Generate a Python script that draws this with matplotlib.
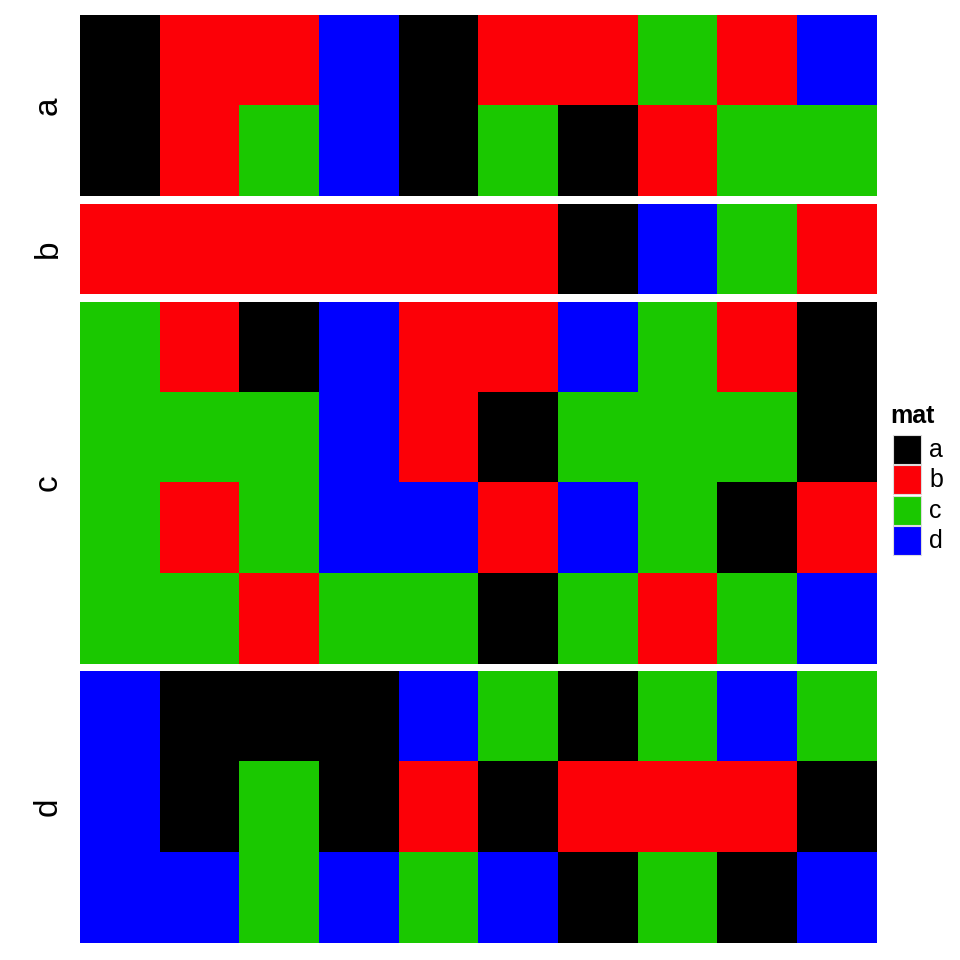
import matplotlib
matplotlib.use("Agg")
import matplotlib.pyplot as plt
from matplotlib.colors import ListedColormap
from matplotlib.patches import Rectangle
import numpy as np

plt.rcParams['font.family'] = ['Liberation Sans', 'DejaVu Sans']

levels = ['a', 'b', 'c', 'd']
level_colors = ['#000000', '#FC0007', '#1AC800', '#0000FF']
groups = ['a', 'b', 'c', 'd']

rows_a = [
    "a b b d a b b c b d",
    "a b c d a c a b c c",
]
rows_b = [
    "b b b b b b a d c b",
]
rows_c = [
    "c b a d b b d c b a",
    "c c c d b a c c c a",
    "c b c d d b d c a b",
    "c c b c c a c b c d",
]
rows_d = [
    "d a a a d c a c d c",
    "d a c a b a b b b a",
    "d d c d c d a c a d",
]
group_rows = [rows_a, rows_b, rows_c, rows_d]

cmap = ListedColormap(level_colors)

fig = plt.figure(figsize=(9.6, 9.6), dpi=100)
W, H = 960.0, 960.0
x0, x1 = 80.0, 877.0
top, bottom = 15.0, 943.0
gap = 7.5
nrows_total = sum(len(r) for r in group_rows)
row_h = (bottom - top - gap * (len(group_rows) - 1)) / nrows_total

y = top
for g, rows in zip(groups, group_rows):
    h = row_h * len(rows)
    ax = fig.add_axes([x0 / W, 1 - (y + h) / H, (x1 - x0) / W, h / H])
    mat = np.array([[levels.index(v) for v in r.split()] for r in rows])
    ax.imshow(mat, cmap=cmap, vmin=-0.5, vmax=3.5, aspect='auto', interpolation='nearest')
    ax.set_xticks([])
    ax.set_yticks([])
    for s in ax.spines.values():
        s.set_visible(False)
    fig.text(48 / W, 1 - (y + h / 2) / H, g, rotation=90, ha='center', va='center', fontsize=24)
    y += h + gap

# legend
fig.text(890 / W, 1 - 416 / H, 'mat', fontsize=18, fontweight='bold', ha='left', va='center')
sq_top = 435.0
sq_h = 30.3
for i, (lv, col) in enumerate(zip(levels, level_colors)):
    yy = sq_top + i * sq_h
    fig.patches.append(Rectangle((893 / W, 1 - (yy + 29) / H), 28 / W, 29 / H,
                                 transform=fig.transFigure, facecolor=col,
                                 edgecolor='#DDDDDD', linewidth=0.8))
    fig.text(929 / W, 1 - (yy + 15) / H, lv, fontsize=18, ha='left', va='center')

fig.savefig('out.png', dpi=100)
